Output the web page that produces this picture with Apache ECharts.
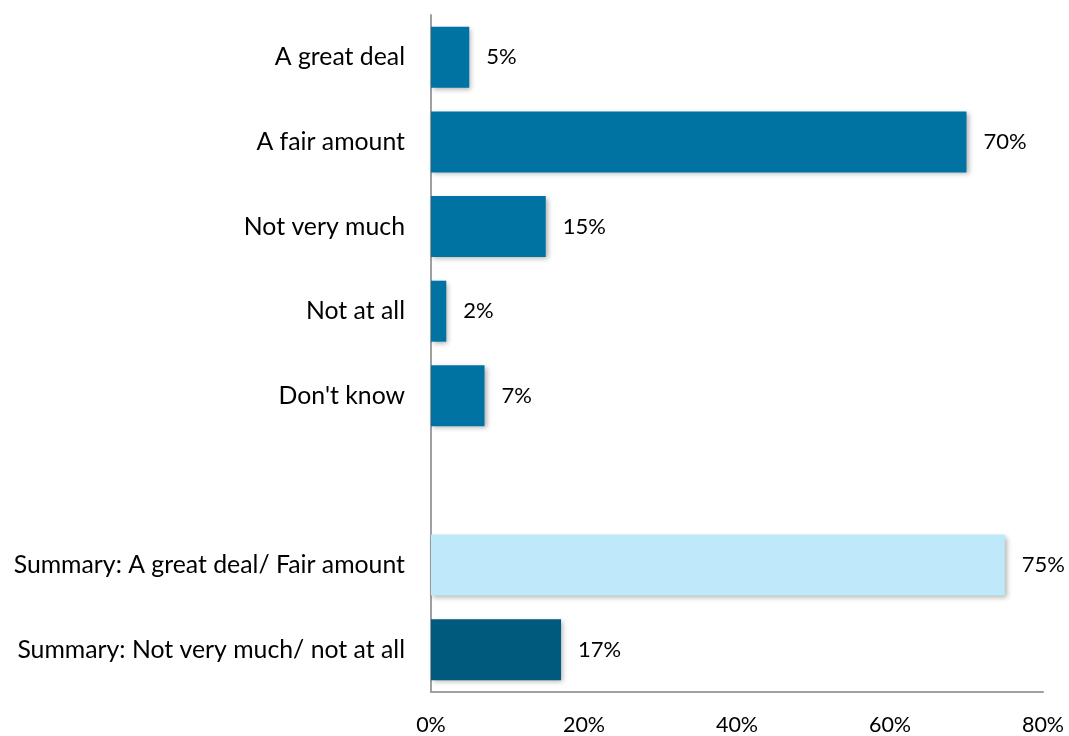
<!DOCTYPE html>
<html>
<head>
<meta charset="utf-8">
<script src="https://cdn.jsdelivr.net/npm/echarts@6/dist/echarts.min.js"></script>
<style>
html,body{margin:0;padding:0;background:#fff;}
#chart{width:1069px;height:736px;}
</style>
</head>
<body>
<div id="chart"></div>
<script>
const categories = ["A great deal", "A fair amount", "Not very much", "Not at all", "Don't know", "", "Summary: A great deal/ Fair amount", "Summary: Not very much/ not at all"];
const values = [5, 70, 15, 2, 7, null, 75, 17];
const barColors = ["#0073A3", "#0073A3", "#0073A3", "#0073A3", "#0073A3", "#0073A3", "#BDE9FB", "#005A7D"];
const tickValues = [0, 20, 40, 60, 80];

const chart = echarts.init(document.getElementById('chart'));
const font = 'Lato, "Open Sans", sans-serif';
chart.setOption({
  animation: false,
  grid: { left: 431, right: 26, top: 15, bottom: 43, containLabel: false },
  xAxis: {
    type: 'value', min: 0, max: 80, interval: 20,
    axisLine: { show: true, lineStyle: { color: '#A0A0A0', width: 2 } },
    axisTick: { show: false },
    splitLine: { show: false },
    axisLabel: { formatter: '{value}%', color: '#000', fontSize: 21.5, fontFamily: font, margin: 22 }
  },
  yAxis: {
    type: 'category', inverse: true, data: categories,
    axisLine: { show: true, lineStyle: { color: '#A0A0A0', width: 2 } },
    axisTick: { show: false },
    axisLabel: { color: '#000', fontSize: 24.8, fontFamily: font, margin: 26 }
  },
  series: [{
    type: 'bar',
    barWidth: 61,
    data: values.map((v, i) => ({ value: v, itemStyle: { color: barColors[i] } })),
    itemStyle: { shadowBlur: 5, shadowOffsetX: 2, shadowOffsetY: 2, shadowColor: 'rgba(0,0,0,0.3)' },
    label: { show: true, position: 'right', distance: 17, formatter: p => p.value == null ? '' : p.value + '%', color: '#000', fontSize: 22, fontFamily: font }
  }]
});
</script>
</body>
</html>
